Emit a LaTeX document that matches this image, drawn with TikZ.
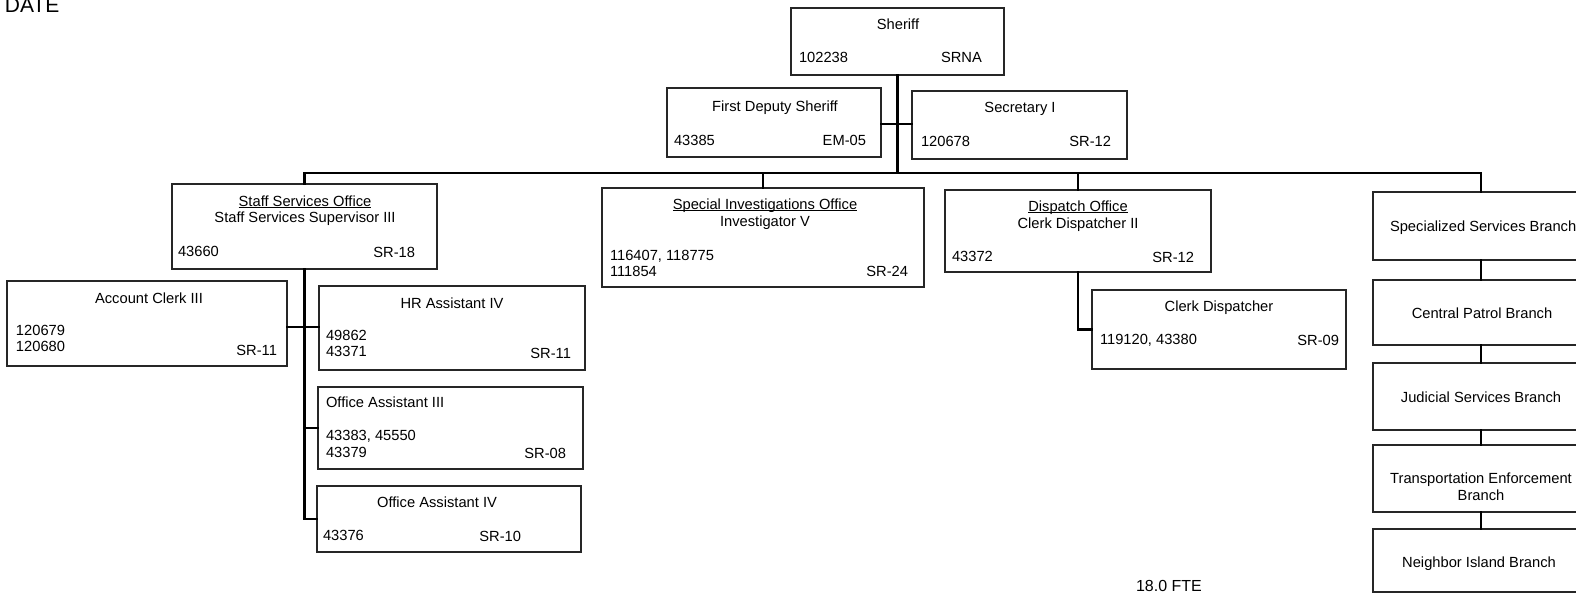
\documentclass[tikz,border=0pt]{standalone}
\usepackage{fontspec}
\setmainfont{Liberation Sans}
\usetikzlibrary{calc}

% underlined office names, rule just below the baseline
\newsavebox{\ulbox}
\newcommand{\officeul}[1]{\sbox{\ulbox}{#1}\rlap{\rule[-1.8pt]{\wd\ulbox}{0.9pt}}\usebox{\ulbox}}

% box from corner (x1,y1) to (x2,y2), in picture pixels
\newcommand{\orgbox}[5]{%
  \node[box,minimum width={#4-#2},minimum height={#5-#3}] (#1) at ({(#2+#4)/2},{(#3+#5)/2}) {};}

\begin{document}
\begin{tikzpicture}[x=1pt,y=-1pt,
  box/.style={draw=black!85,line width=1.3pt,rectangle,inner sep=0pt,outer sep=0pt},
  txt/.style={inner sep=0pt,outer sep=0pt,font=\fontsize{14.7}{16.5}\selectfont},
  link/.style={draw=black,line width=2.6pt,line cap=rect,line join=miter}]

\useasboundingbox (0,0) rectangle (1576,594);
\clip (0,0) rectangle (1576,594);

% page header and footer
\node[txt,anchor=base west,font=\fontsize{21}{23}\selectfont] (date) at (5,13) {DATE};
\node[txt,anchor=base west,font=\fontsize{16}{18}\selectfont] (fte) at (1136,591) {18.0 FTE};

% ---- top office ----
\orgbox{sheriff}{791}{8}{1004}{75}
\node[txt,anchor=base] (sheriffT) at (898,30) {Sheriff};
\node[txt,anchor=base west] (sheriffN) at (799,63) {102238};
\node[txt,anchor=base west] (sheriffG) at (941,63) {SRNA};

\orgbox{deputy}{667}{88}{881}{157}
\node[txt,anchor=base] (deputyT) at (775,111) {First Deputy Sheriff};
\node[txt,anchor=base west] (deputyN) at (674,145) {43385};
\node[txt,anchor=base east] (deputyG) at (866,145) {EM-05};

\orgbox{secretary}{912}{91}{1127}{159}
\node[txt,anchor=base] (secretaryT) at (1020,112) {Secretary I};
\node[txt,anchor=base west] (secretaryN) at (921,146) {120678};
\node[txt,anchor=base east] (secretaryG) at (1111,146) {SR-12};

% ---- staff services ----
\orgbox{staff}{172}{184}{437}{269}
\node[txt,anchor=base] (staffT1) at (305,206) {\officeul{Staff Services Office}};
\node[txt,anchor=base] (staffT2) at (305,222) {Staff Services Supervisor III};
\node[txt,anchor=base west] (staffN) at (178,256) {43660};
\node[txt,anchor=base east] (staffG) at (415,257) {SR-18};

\orgbox{account}{7}{281}{287}{366}
\node[txt,anchor=base] (accountT) at (149,303) {Account Clerk III};
\node[txt,anchor=base west] (accountN1) at (16,335) {120679};
\node[txt,anchor=base west] (accountN2) at (16,351) {120680};
\node[txt,anchor=base east] (accountG) at (277,355) {SR-11};

\orgbox{hr}{319}{286}{585}{370}
\node[txt,anchor=base] (hrT) at (452,308) {HR Assistant IV};
\node[txt,anchor=base west] (hrN1) at (326,340) {49862};
\node[txt,anchor=base west] (hrN2) at (326,356) {43371};
\node[txt,anchor=base east] (hrG) at (571,358) {SR-11};

\orgbox{oa3}{318}{387}{583}{469}
\node[txt,anchor=base west] (oa3T) at (326,407) {Office Assistant III};
\node[txt,anchor=base west] (oa3N1) at (326,440) {43383, 45550};
\node[txt,anchor=base west] (oa3N2) at (326,457) {43379};
\node[txt,anchor=base east] (oa3G) at (566,458) {SR-08};

\orgbox{oa4}{317}{486}{581}{552}
\node[txt,anchor=base] (oa4T) at (437,507) {Office Assistant IV};
\node[txt,anchor=base west] (oa4N) at (323,540) {43376};
\node[txt,anchor=base east] (oa4G) at (521,541) {SR-10};

% ---- special investigations ----
\orgbox{special}{602}{188}{924}{287}
\node[txt,anchor=base] (specialT1) at (765,209) {\officeul{Special Investigations Office}};
\node[txt,anchor=base] (specialT2) at (765,226) {Investigator V};
\node[txt,anchor=base west] (specialN1) at (610,260) {116407, 118775};
\node[txt,anchor=base west] (specialN2) at (610,276) {111854};
\node[txt,anchor=base east] (specialG) at (908,276) {SR-24};

% ---- dispatch ----
\orgbox{dispatch}{945}{190}{1211}{272}
\node[txt,anchor=base] (dispatchT1) at (1078,211) {\officeul{Dispatch Office}};
\node[txt,anchor=base] (dispatchT2) at (1078,228) {Clerk Dispatcher II};
\node[txt,anchor=base west] (dispatchN) at (952,261) {43372};
\node[txt,anchor=base east] (dispatchG) at (1194,262) {SR-12};

\orgbox{clerk}{1092}{290}{1346}{369}
\node[txt,anchor=base] (clerkT) at (1219,311) {Clerk Dispatcher};
\node[txt,anchor=base west] (clerkN) at (1100,344) {119120, 43380};
\node[txt,anchor=base east] (clerkG) at (1339,345) {SR-09};

% ---- branches ----
\orgbox{specialized}{1373}{192}{1589}{260}
\node[txt,anchor=base west] (specializedT) at (1390,231) {Specialized Services Branch};
\orgbox{central}{1373}{280}{1589}{345}
\node[txt,anchor=base] (centralT) at (1482,318) {Central Patrol Branch};
\orgbox{judicial}{1373}{363}{1589}{430}
\node[txt,anchor=base] (judicialT) at (1481,402) {Judicial Services Branch};
\orgbox{transport}{1373}{445}{1589}{512}
\node[txt,anchor=base] (transportT1) at (1481,483) {Transportation Enforcement};
\node[txt,anchor=base] (transportT2) at (1481,500) {Branch};
\orgbox{neighbor}{1373}{529}{1589}{592}
\node[txt,anchor=base] (neighborT) at (1479,567) {Neighbor Island Branch};

% ---- connectors ----
\coordinate (bus) at (305,173);
\coordinate (acbr) at (305,327);

\draw[link] (sheriff.south) -- (sheriff.south |- bus);
\draw[link] (deputy.east |- 0,124) -- (secretary.west |- 0,124);
\draw[link] (staff.north) -- (staff.north |- bus) -- (specialized.north |- bus) -- (specialized.north);
\draw[link] (special.north) -- (special.north |- bus);
\draw[link] (dispatch.north) -- (dispatch.north |- bus);

\draw[link] (staff.south) -- (staff.south |- oa4.west) -- (oa4.west);
\draw[link] (acbr -| account.east) -- (acbr -| hr.west);
\draw[link] (staff.south |- oa3.west) -- (oa3.west);

\draw[link] (dispatch.south) |- (clerk.west);

\draw[link] (specialized.south) -- (central.north);
\draw[link] (central.south) -- (judicial.north);
\draw[link] (judicial.south) -- (transport.north);
\draw[link] (transport.south) -- (neighbor.north);
\end{tikzpicture}
\end{document}
